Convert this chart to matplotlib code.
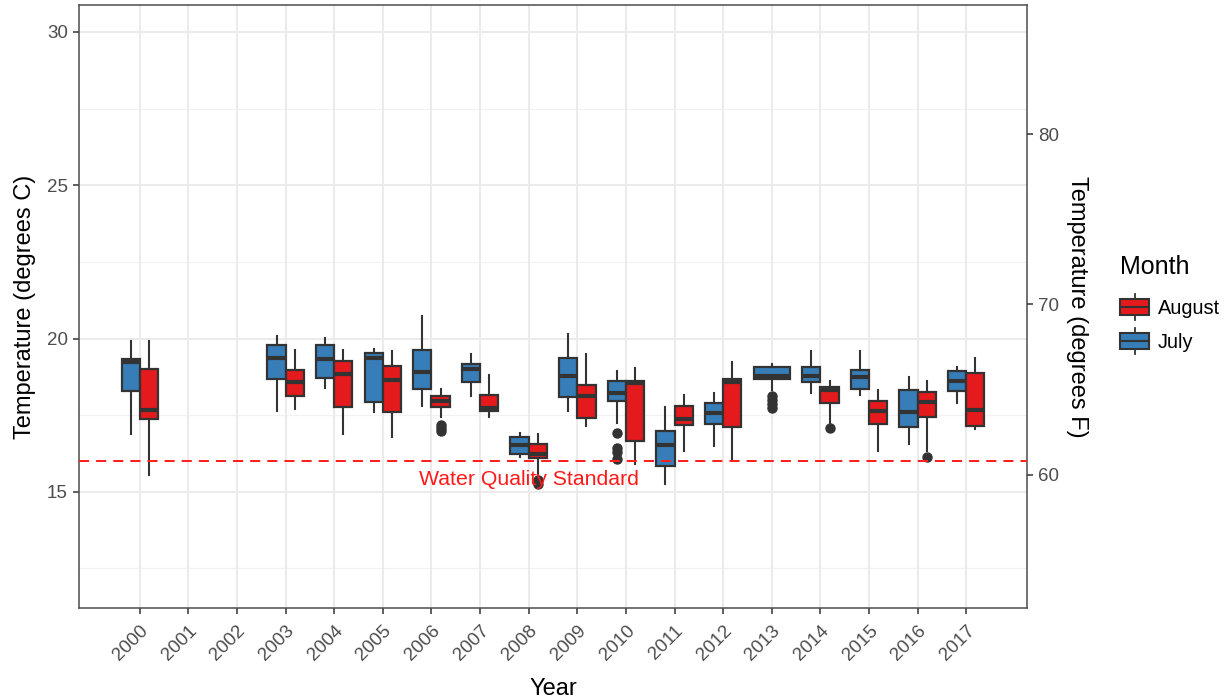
import matplotlib
matplotlib.use("Agg")
import matplotlib.pyplot as plt
from matplotlib.legend_handler import HandlerBase
from matplotlib.patches import Rectangle, Patch
from matplotlib.lines import Line2D

plt.rcParams["font.family"] = ["Liberation Sans", "DejaVu Sans"]

# ---- data: box statistics per year (degrees C) ----
july_years  = [2000, 2003, 2004, 2005, 2006, 2007, 2008, 2009, 2010, 2011, 2012, 2013, 2014, 2015, 2016, 2017]
july_whislo = [16.89, 17.65, 18.39, 17.60, 17.81, 18.11, 16.12, 17.62, 17.26, 15.25, 16.49, 18.32, 18.21, 18.17, 16.56, 17.89]
july_q1     = [18.30, 18.67, 18.72, 17.93, 18.36, 18.59, 16.23, 18.08, 17.95, 15.84, 17.21, 18.68, 18.57, 18.37, 17.10, 18.30]
july_med    = [19.22, 19.37, 19.32, 19.35, 18.92, 18.99, 16.54, 18.78, 18.21, 16.53, 17.58, 18.79, 18.79, 18.74, 17.59, 18.63]
july_q3     = [19.32, 19.78, 19.78, 19.54, 19.61, 19.17, 16.80, 19.35, 18.60, 16.97, 17.89, 19.08, 19.08, 18.98, 18.32, 18.93]
july_whishi = [19.91, 20.08, 20.01, 19.65, 20.75, 19.48, 16.91, 20.15, 18.95, 17.78, 18.21, 19.17, 19.58, 19.58, 18.76, 19.06]
july_fliers = [[], [], [], [], [], [], [], [], [16.91, 16.44, 16.30, 16.07], [], [],
               [18.13, 18.00, 17.87, 17.75], [], [], [], []]

aug_years  = [2000, 2003, 2004, 2005, 2006, 2007, 2008, 2009, 2010, 2011, 2012, 2014, 2015, 2016, 2017]
aug_whislo = [15.56, 17.71, 16.89, 16.80, 17.43, 17.43, 15.41, 17.15, 15.90, 16.32, 16.03, 17.26, 16.34, 16.34, 17.05]
aug_q1     = [17.36, 18.13, 17.78, 17.60, 17.78, 17.65, 16.10, 17.41, 16.67, 17.19, 17.10, 17.90, 17.21, 17.43, 17.16]
aug_med    = [17.67, 18.58, 18.85, 18.65, 17.97, 17.73, 16.23, 18.13, 18.54, 17.38, 18.58, 18.32, 17.65, 17.92, 17.67]
aug_q3     = [19.02, 18.98, 19.26, 19.11, 18.14, 18.16, 16.56, 18.47, 18.63, 17.80, 18.69, 18.41, 17.97, 18.24, 18.87]
aug_whishi = [19.91, 19.61, 19.61, 19.58, 18.36, 18.82, 16.88, 19.50, 19.04, 18.17, 19.22, 18.63, 18.32, 18.60, 19.37]
aug_fliers = [[], [], [], [], [17.18, 17.07, 16.98], [], [15.38, 15.25], [], [], [], [], [17.08], [], [16.14], []]

year_ticks = list(range(2000, 2018))
standard_c = 16.0
standard_label = "Water Quality Standard"
month_labels = ["August", "July"]

JULY_C = "#377EB8"
AUG_C = "#E41A1C"
EDGE = "#333333"
DODGE = 0.75


def build_stats(lo, q1, med, q3, hi, fliers):
    return [dict(whislo=a, q1=b, med=c, q3=d, whishi=e, fliers=f)
            for a, b, c, d, e, f in zip(lo, q1, med, q3, hi, fliers)]


july_stats = build_stats(july_whislo, july_q1, july_med, july_q3, july_whishi, july_fliers)
aug_stats = build_stats(aug_whislo, aug_q1, aug_med, aug_q3, aug_whishi, aug_fliers)

# dodge: two boxes share a year slot, a lone box takes the full slot
both = set(july_years) & set(aug_years)
july_pos = [y - DODGE / 4 if y in both else y for y in july_years]
july_w = [DODGE / 2 if y in both else DODGE for y in july_years]
aug_pos = [y + DODGE / 4 if y in both else y for y in aug_years]
aug_w = [DODGE / 2 if y in both else DODGE for y in aug_years]

fig = plt.figure(figsize=(12.32, 7.0), dpi=100)
ax = fig.add_axes([79 / 1232, 1 - 608 / 700, (1027 - 79) / 1232, (608 - 5) / 700])

ylo, yhi = 11.21, 30.88
ax.set_xlim(1998.75, 2018.25)
ax.set_ylim(ylo, yhi)

# grid (theme_bw look)
ax.set_axisbelow(True)
for y in [15, 20, 25, 30]:
    ax.axhline(y, color="#EBEBEB", lw=1.5, zorder=0)
for y in [12.5, 17.5, 22.5, 27.5]:
    ax.axhline(y, color="#F2F2F2", lw=0.9, zorder=0)
for x in year_ticks:
    ax.axvline(x, color="#EBEBEB", lw=1.5, zorder=0)


def draw(stats, pos, widths, color):
    ax.bxp(stats, positions=pos, widths=widths, patch_artist=True, showcaps=False,
           boxprops=dict(facecolor=color, edgecolor=EDGE, linewidth=1.6),
           whiskerprops=dict(color=EDGE, linewidth=1.5),
           medianprops=dict(color=EDGE, linewidth=3.0, solid_capstyle="butt"),
           flierprops=dict(marker="o", markerfacecolor=EDGE, markeredgecolor=EDGE,
                           markersize=6.5, linestyle="none"),
           manage_ticks=False, zorder=3)


draw(july_stats, july_pos, july_w, JULY_C)
draw(aug_stats, aug_pos, aug_w, AUG_C)

# water quality standard
ax.axhline(standard_c, color="#FF2020", lw=1.45, dashes=(5, 3.5), zorder=4)
ax.text(2008, standard_c - 0.28, standard_label, color="#FF1A1A", fontsize=15.3,
        ha="center", va="top", zorder=5)

# axes styling
for s in ax.spines.values():
    s.set_color("#4D4D4D")
    s.set_linewidth(1.1)
ax.set_yticks([15, 20, 25, 30])
ax.set_xticks(year_ticks)
ax.set_xticklabels([str(y) for y in year_ticks], rotation=45, ha="right", va="top",
                   rotation_mode="anchor")
ax.tick_params(axis="both", colors="#333333", labelcolor="#4D4D4D", labelsize=13.5,
               length=4.5, width=1.1)
ax.tick_params(axis="x", pad=6)
ax.set_xlabel("Year", fontsize=17, labelpad=10)
ax.set_ylabel("Temperature (degrees C)", fontsize=17, labelpad=8)

# secondary Fahrenheit axis
ax2 = ax.twinx()
ax2.set_ylim(ylo * 9 / 5 + 32, yhi * 9 / 5 + 32)
ax2.set_yticks([60, 70, 80])
ax2.tick_params(axis="y", colors="#333333", labelcolor="#4D4D4D", labelsize=13.5,
                length=4.5, width=1.1)
for s in ax2.spines.values():
    s.set_visible(False)
ax2.set_ylabel("Temperature (degrees F)", fontsize=17, rotation=270, labelpad=21)


class BoxKey(HandlerBase):
    def create_artists(self, legend, orig_handle, xdescent, ydescent, width, height,
                       fontsize, trans):
        fc = orig_handle.get_facecolor()
        x0, y0 = -xdescent, -ydescent
        cx = x0 + width / 2
        r = Rectangle((x0, y0 + height * 0.18), width, height * 0.64, facecolor=fc,
                      edgecolor=EDGE, lw=1.5, transform=trans)
        m = Line2D([x0, x0 + width], [y0 + height / 2] * 2, color=EDGE, lw=1.5, transform=trans)
        w1 = Line2D([cx, cx], [y0 + height * 0.82, y0 + height], color=EDGE, lw=1.3, transform=trans)
        w2 = Line2D([cx, cx], [y0, y0 + height * 0.18], color=EDGE, lw=1.3, transform=trans)
        return [r, m, w1, w2]


handles = [Patch(facecolor=AUG_C), Patch(facecolor=JULY_C)]
leg = fig.legend(handles, month_labels, title="Month", loc="upper left",
                 bbox_to_anchor=(1120 / 1232, 1 - 255 / 700), frameon=False,
                 fontsize=14.4, title_fontsize=18, handler_map={Patch: BoxKey()},
                 handlelength=1.45, handleheight=1.6, labelspacing=0.42,
                 handletextpad=0.45, borderpad=0, borderaxespad=0, alignment="left")
leg._legend_box.sep = 11

fig.savefig("out.png", dpi=100)
